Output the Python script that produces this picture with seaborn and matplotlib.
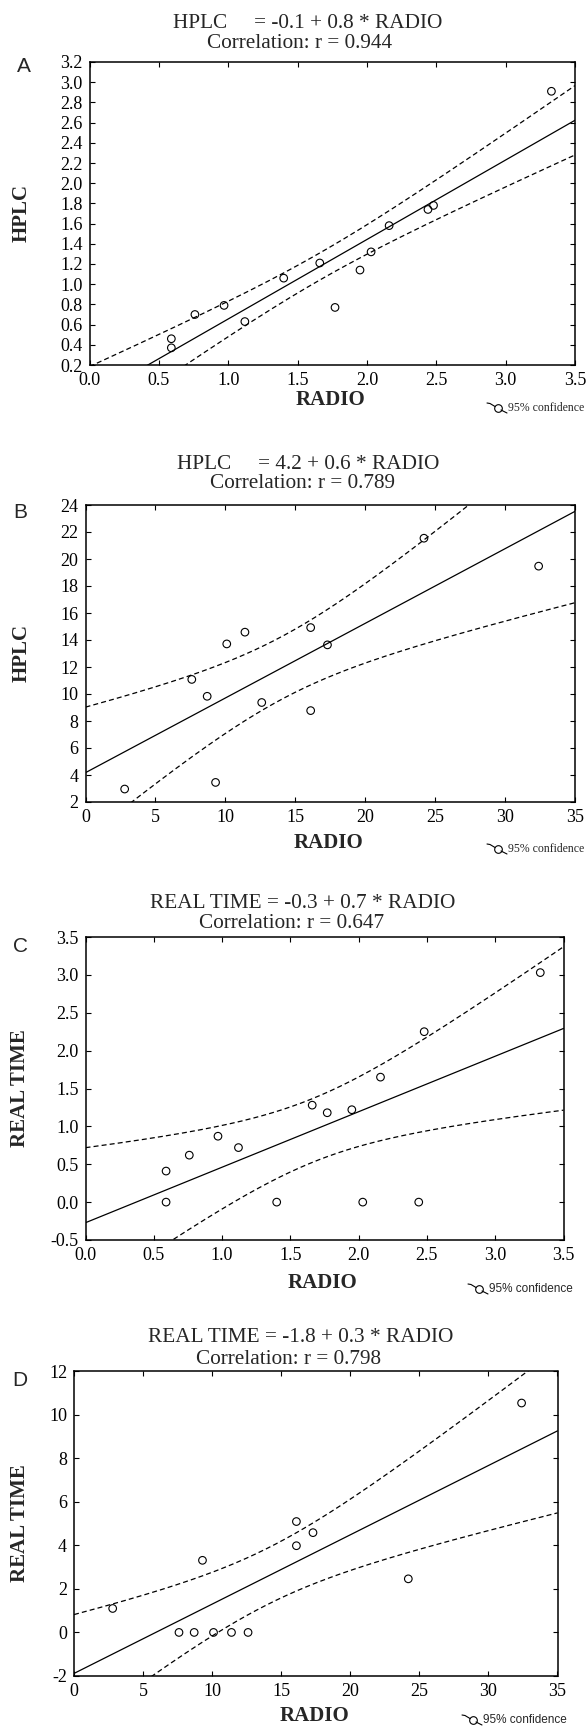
import numpy as np
import pandas as pd
import matplotlib
matplotlib.use("Agg")
import matplotlib.pyplot as plt
from matplotlib.lines import Line2D
import seaborn as sns

# ---------------- data ----------------
radio_small = [0.59, 0.59, 0.76, 0.97, 1.12, 1.40, 1.66, 1.77, 1.95, 2.03, 2.16, 2.44, 2.48, 3.33]
hplc_A = [0.46, 0.37, 0.70, 0.79, 0.63, 1.06, 1.21, 0.77, 1.14, 1.32, 1.58, 1.74, 1.78, 2.91]
real_C = [0.41, 0.00, 0.62, 0.87, 0.72, 0.00, 1.28, 1.18, 1.22, 0.00, 1.65, 0.00, 2.25, 3.03]

radio_large = [2.8, 7.6, 8.7, 9.3, 10.1, 11.4, 12.6, 16.1, 16.1, 17.3, 24.2, 32.4]
hplc_B = [2.96, 11.08, 9.83, 3.45, 13.71, 14.58, 9.37, 14.92, 8.77, 13.64, 21.54, 19.47]
real_D = [1.10, 0.00, 0.00, 3.31, 0.00, 0.00, 0.00, 5.09, 3.98, 4.58, 2.46, 10.53]

titles = [
    ("HPLC     = -0.1 + 0.8 * RADIO", "Correlation: r = 0.944"),
    ("HPLC     = 4.2 + 0.6 * RADIO", "Correlation: r = 0.789"),
    ("REAL TIME = -0.3 + 0.7 * RADIO", "Correlation: r = 0.647"),
    ("REAL TIME = -1.8 + 0.3 * RADIO", "Correlation: r = 0.798"),
]
letters = ["A", "B", "C", "D"]
ylabels = ["HPLC", "HPLC", "REAL TIME", "REAL TIME"]
xlabel = "RADIO"
legend_text = "95% confidence"

xticks_small = [0.0, 0.5, 1.0, 1.5, 2.0, 2.5, 3.0, 3.5]
xticks_large = [0, 5, 10, 15, 20, 25, 30, 35]
yticks_A = [0.2, 0.4, 0.6, 0.8, 1.0, 1.2, 1.4, 1.6, 1.8, 2.0, 2.2, 2.4, 2.6, 2.8, 3.0, 3.2]
yticks_B = [2, 4, 6, 8, 10, 12, 14, 16, 18, 20, 22, 24]
yticks_C = [-0.5, 0.0, 0.5, 1.0, 1.5, 2.0, 2.5, 3.0, 3.5]
yticks_D = [-2, 0, 2, 4, 6, 8, 10, 12]

# t critical values (two-sided 95%) for df = n-2
t_crit = {12: 2.179, 10: 2.228}

# ---------------- style ----------------
sns.set_style("ticks")
plt.rcParams['font.family'] = ['Liberation Serif', 'DejaVu Serif']
plt.rcParams['xtick.direction'] = 'in'
plt.rcParams['ytick.direction'] = 'in'

W, H = 587, 1728
fig = plt.figure(figsize=(W / 100, H / 100), dpi=100)
fig.patch.set_facecolor("white")


def fx(px):
    return px / W


def fy(py):
    return 1 - py / H


panels = [
    dict(box=(89.5, 575, 62, 365), x=radio_small, y=hplc_A, xt=xticks_small, yt=yticks_A,
         fx="{:.1f}", fy="{:.1f}",
         title_y=(24, 44), title_x=(308, 300), letter=(24, 67), ylab_x=22, xlab=(330, 400),
         leg=(487, 408), leg_font=['Liberation Serif']),
    dict(box=(85.5, 575, 505, 802), x=radio_large, y=hplc_B, xt=xticks_large, yt=yticks_B,
         fx="{:.0f}", fy="{:.0f}",
         title_y=(464, 484), title_x=(308, 303), letter=(20, 512), ylab_x=22, xlab=(328, 843),
         leg=(487, 849), leg_font=['Liberation Serif']),
    dict(box=(85.5, 563.5, 937, 1240), x=radio_small, y=real_C, xt=xticks_small, yt=yticks_C,
         fx="{:.1f}", fy="{:.1f}",
         title_y=(903, 924), title_x=(303, 292), letter=(20, 946), ylab_x=20, xlab=(322, 1283),
         leg=(468, 1289), leg_font=['Liberation Sans']),
    dict(box=(74, 557.5, 1371, 1676), x=radio_large, y=real_D, xt=xticks_large, yt=yticks_D,
         fx="{:.0f}", fy="{:.0f}",
         title_y=(1337, 1359), title_x=(301, 289), letter=(20, 1380), ylab_x=20, xlab=(314, 1716),
         leg=(462, 1720), leg_font=['Liberation Sans']),
]

for i, p in enumerate(panels):
    l, r, t, b = p["box"]
    ax = fig.add_axes([fx(l), fy(b), fx(r) - fx(l), (b - t) / H])
    x = np.asarray(p["x"], float)
    y = np.asarray(p["y"], float)
    n = len(x)
    slope, icpt = np.polyfit(x, y, 1)
    resid = y - (icpt + slope * x)
    s = np.sqrt(np.sum(resid ** 2) / (n - 2))
    xm = x.mean()
    sxx = np.sum((x - xm) ** 2)
    xlim = (p["xt"][0], p["xt"][-1])
    ylim = (p["yt"][0], p["yt"][-1])
    grid = np.linspace(xlim[0], xlim[1], 200)
    fit = icpt + slope * grid
    half = t_crit[n - 2] * s * np.sqrt(1.0 / n + (grid - xm) ** 2 / sxx)
    df_line = pd.DataFrame({"x": grid, "fit": fit, "lo": fit - half, "hi": fit + half})

    sns.lineplot(data=df_line, x="x", y="fit", ax=ax, color="black", lw=0.9)
    sns.lineplot(data=df_line, x="x", y="hi", ax=ax, color="black", lw=0.9,
                 linestyle=(0, (4, 2.5)))
    sns.lineplot(data=df_line, x="x", y="lo", ax=ax, color="black", lw=0.9,
                 linestyle=(0, (4, 2.5)))
    sns.scatterplot(x=x, y=y, ax=ax, marker="o", s=30, facecolor="none",
                    edgecolor="black", linewidth=0.8, zorder=5)

    ax.set_xlim(*xlim)
    ax.set_ylim(*ylim)
    ax.set_xticks(p["xt"])
    ax.set_xticklabels([p["fx"].format(v) for v in p["xt"]])
    ax.set_yticks(p["yt"])
    ax.set_yticklabels([p["fy"].format(v) for v in p["yt"]])
    ax.tick_params(axis="both", which="both", direction="in", length=3.5, width=0.8,
                   labelsize=13, top=True, right=True, pad=5, colors="black")
    ax.set_xlabel("")
    ax.set_ylabel("")
    for sp in ax.spines.values():
        sp.set_visible(True)
        sp.set_linewidth(1.1)
        sp.set_color("black")
    ax.set_facecolor("white")

    # titles
    fig.text(fx(p["title_x"][0]), fy(p["title_y"][0]), titles[i][0], ha="center", va="center",
             fontsize=15.3)
    fig.text(fx(p["title_x"][1]), fy(p["title_y"][1]), titles[i][1], ha="center", va="center",
             fontsize=15.3)
    # panel letter
    fig.text(fx(p["letter"][0]), fy(p["letter"][1]), letters[i], ha="center", va="center",
             fontsize=15, family=['Liberation Sans'])
    # axis labels
    fig.text(fx(p["ylab_x"]), fy((t + b) / 2), ylabels[i], rotation=90, ha="center",
             va="center", fontsize=15, fontweight="bold")
    fig.text(fx(p["xlab"][0]), fy(p["xlab"][1]), xlabel, ha="center", va="center",
             fontsize=15, fontweight="bold")
    # confidence legend
    lx, ly = p["leg"]
    fig.add_artist(Line2D([fx(lx), fx(lx + 3), fx(lx + 8)],
                          [fy(ly - 5), fy(ly - 4.5), fy(ly - 1.5)], color="black", lw=0.8))
    fig.add_artist(Line2D([fx(lx + 11)], [fy(ly)], marker="o", markersize=5.5,
                          markerfacecolor="none", markeredgecolor="black", markeredgewidth=0.8))
    fig.add_artist(Line2D([fx(lx + 14), fx(lx + 20)], [fy(ly + 2), fy(ly + 5)], color="black",
                          lw=0.8))
    fig.text(fx(lx + 21), fy(ly), legend_text, ha="left", va="center", fontsize=8.5,
             family=p["leg_font"])

fig.savefig("out.png", dpi=100, facecolor="white")
